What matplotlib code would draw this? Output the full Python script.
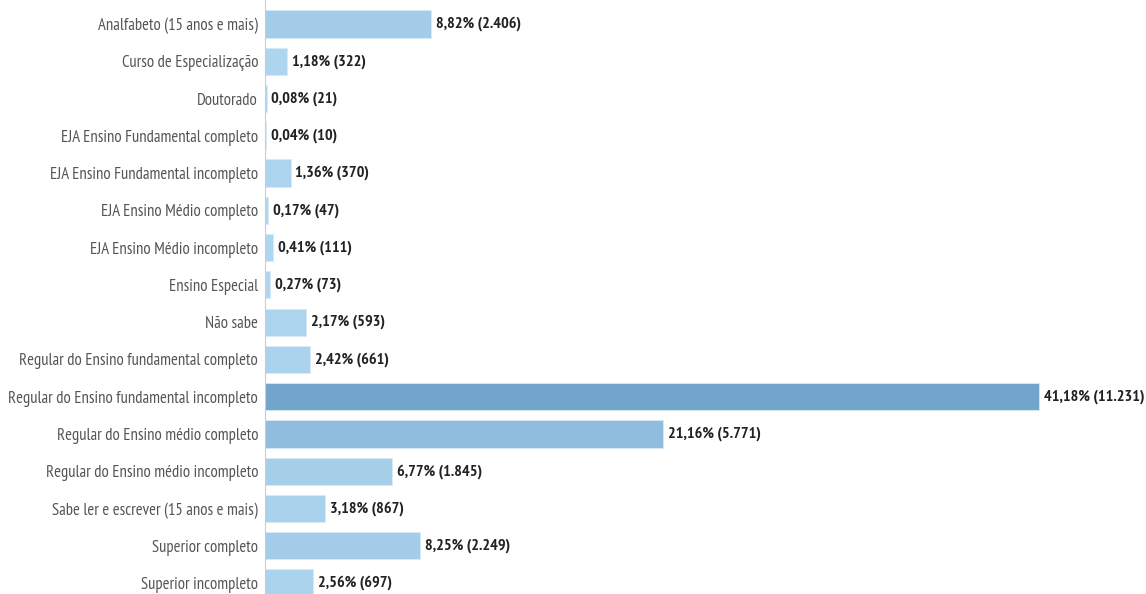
import matplotlib.pyplot as plt
from matplotlib import font_manager
from matplotlib.colors import LinearSegmentedColormap

categories = [
    "Analfabeto (15 anos e mais)",
    "Curso de Especialização",
    "Doutorado",
    "EJA Ensino Fundamental completo",
    "EJA Ensino Fundamental incompleto",
    "EJA Ensino Médio completo",
    "EJA Ensino Médio incompleto",
    "Ensino Especial",
    "Não sabe",
    "Regular do Ensino fundamental completo",
    "Regular do Ensino fundamental incompleto",
    "Regular do Ensino médio completo",
    "Regular do Ensino médio incompleto",
    "Sabe ler e escrever (15 anos e mais)",
    "Superior completo",
    "Superior incompleto",
]
percent = [8.82, 1.18, 0.08, 0.04, 1.36, 0.17, 0.41, 0.27, 2.17, 2.42,
           41.18, 21.16, 6.77, 3.18, 8.25, 2.56]
counts = ["2.406", "322", "21", "10", "370", "47", "111", "73", "593", "661",
          "11.231", "5.771", "1.845", "867", "2.249", "697"]

# pick a narrow font with a regular weight (the original uses a condensed face)
fonts = font_manager.fontManager.ttflist
family = "DejaVu Sans"
for cand in ["PT Sans Narrow", "Roboto Condensed", "Fira Sans Condensed",
             "Archivo Narrow", "Encode Sans Condensed", "IBM Plex Sans Condensed",
             "Open Sans Condensed"]:
    if any(f.name == cand and f.weight in (400, "normal", "regular") for f in fonts):
        family = cand
        break
plt.rcParams["font.family"] = [family, "DejaVu Sans"]

W, H = 1146, 594
fig = plt.figure(figsize=(W / 100, H / 100), dpi=100)
px_per_pct = 18.8
left = 265
ax = fig.add_axes([left / W, 0, 1 - left / W, 1])

cmap = LinearSegmentedColormap.from_list("blues", ["#afd6ef", "#72a5cb"])
vmax = max(percent)
colors = [cmap(p / vmax) for p in percent]

y = list(range(len(categories)))
ax.barh(y, percent, height=0.73, color=colors, edgecolor="#d8eaf6", linewidth=0.6)

# size the fonts so the longest texts span the same width as in the original
renderer = fig.canvas.get_renderer()
probe = fig.text(0, 0, categories[10], fontsize=10, fontweight="normal")
w10 = probe.get_window_extent(renderer).width
probe.set_text("41,18% (11.231)")
probe.set_fontweight("bold")
wv = probe.get_window_extent(renderer).width
probe.remove()
label_size = 10 * 250 / w10
value_size = 10 * 102 / wv

for yi, p, c in zip(y, percent, counts):
    txt = f"{p:.2f}".replace(".", ",") + f"% ({c})"
    ax.annotate(txt, (p, yi), xytext=(3.5, 0), textcoords="offset points",
                va="center", ha="left", fontsize=value_size, color="#222222",
                fontweight="bold")

row = 37.27
ax.set_ylim(15 + 11 / row, -24 / row)
ax.set_xlim(0, (W - left) / px_per_pct)
ax.set_yticks(y)
ax.set_yticklabels(categories, fontsize=label_size, color="#555555",
                   fontweight="normal")
ax.tick_params(axis="y", length=0, pad=5)
ax.set_xticks([])
for s in ["top", "right", "bottom"]:
    ax.spines[s].set_visible(False)
ax.spines["left"].set_color("#cccccc")
ax.spines["left"].set_linestyle((0, (1, 1)))
ax.spines["left"].set_linewidth(0.8)

fig.savefig("out.png", dpi=100)
